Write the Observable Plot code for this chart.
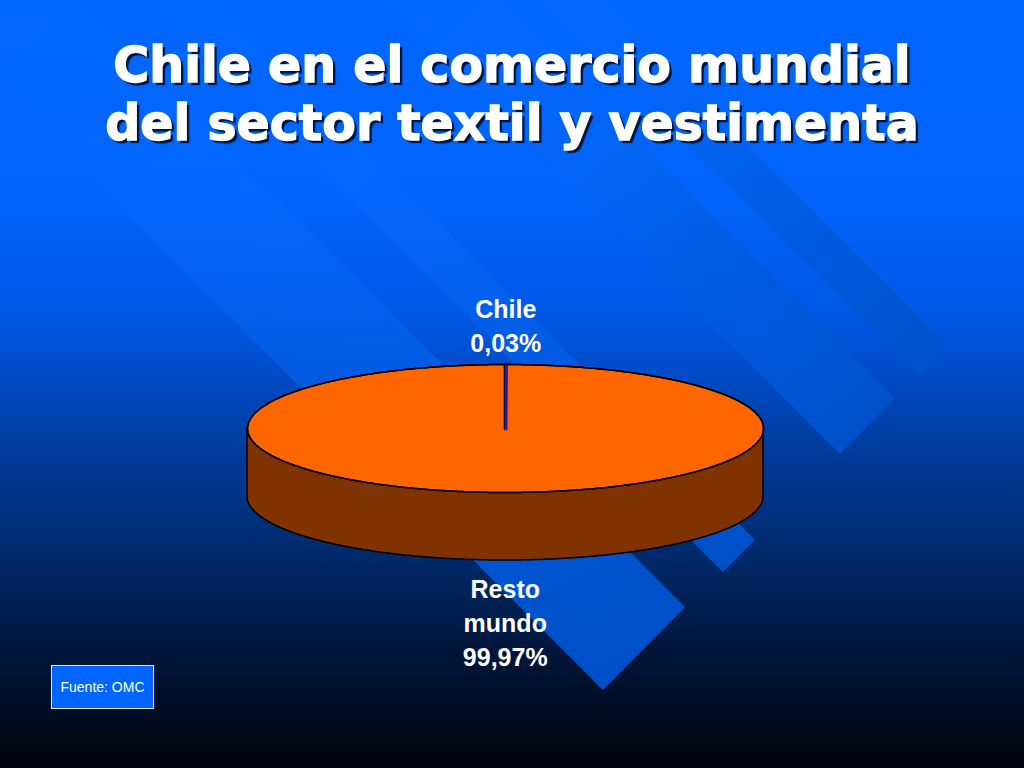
<!DOCTYPE html>
<html>
<head>
<meta charset="utf-8">
<script src="https://cdn.jsdelivr.net/npm/d3@7"></script>
<script src="https://cdn.jsdelivr.net/npm/@observablehq/plot@0.6"></script>
<style>
  html, body { margin: 0; padding: 0; width: 1024px; height: 768px; overflow: hidden; }
  #stage { position: relative; width: 1024px; height: 768px;
    background: linear-gradient(to bottom, #0066ff 0%, #0064fb 25%, #0059e8 40%, #0049c2 50%, #003a96 60%, #002a6c 72%, #00163a 85%, #00040c 100%); }
  #bands { position: absolute; left: 0; top: 0; }
  #chart { position: absolute; left: 0; top: 0; }
  #title { position: absolute; left: 0; top: 37px; width: 1024px; text-align: center;
    font-family: "DejaVu Sans", sans-serif; font-weight: bold; font-size: 49px; line-height: 58px;
    letter-spacing: 0px; color: #fff; -webkit-text-stroke: 1.4px #fff; text-shadow: 3px 3px 1px #001440; }
  #source { position: absolute; left: 51px; top: 665px; width: 101px; height: 42px;
    background: #0066ff; border: 1px solid #dde6ff; color: #fff; font-family: "Liberation Sans", Arial, sans-serif;
    font-size: 14px; line-height: 42px; text-align: center; }
</style>
</head>
<body>
<div id="stage">
  <svg id="bands" width="1024" height="768"></svg>
  <div id="chart"></div>
  <div id="title">Chile en el comercio mundial<br>del sector textil y vestimenta</div>
  <div id="source">Fuente: OMC</div>
</div>
<script>
// ---- data ----
const categories = ["Chile", "Resto mundo"];
const shares = [0.03, 99.97];
const shareLabels = ["0,03%", "99,97%"];
const sliceColors = ["#1e1e9e", "#ff6600"];

// ---- decorative diagonal bands (background only) ----
(function () {
  const svg = d3.select("#bands");
  const defs = svg.append("defs");
  const bands = [
    {p1: [948, 346], p2: [918, 376], d: 620},
    {p1: [895, 398], p2: [840, 454], d: 640},
    {p1: [755, 540], p2: [723, 572], d: 640},
    {p1: [685, 607], p2: [603, 690], d: 700}
  ];
  bands.forEach((b, i) => {
    const g = defs.append("linearGradient").attr("id", "bg" + i)
      .attr("x1", 0).attr("y1", 0).attr("x2", 1).attr("y2", 1);
    g.append("stop").attr("offset", "0%").attr("stop-color", "#0a6cff").attr("stop-opacity", 0);
    g.append("stop").attr("offset", "40%").attr("stop-color", "#0a6cff").attr("stop-opacity", 0.3);
    g.append("stop").attr("offset", "70%").attr("stop-color", "#005ee6").attr("stop-opacity", 0.85);
    g.append("stop").attr("offset", "100%").attr("stop-color", "#0050c8").attr("stop-opacity", 1);
    const pts = [b.p1, b.p2, [b.p2[0] - b.d, b.p2[1] - b.d], [b.p1[0] - b.d, b.p1[1] - b.d]];
    svg.append("polygon").attr("points", pts.map(p => p.join(",")).join(" "))
      .attr("fill", `url(#bg${i})`);
  });
})();

// ---- pie geometry from data ----
const depth = 1.0625;            // thickness of the 3D disc, in radius units
const pieData = categories.map((c, i) => ({name: c, value: shares[i], label: shareLabels[i], color: sliceColors[i]}));
const arcs = d3.pie().sort(null).value(d => d.value).startAngle(0).endAngle(2 * Math.PI)(pieData);
const step = Math.PI / 360;

function arcPoints(a0, a1) {
  const pts = [];
  const n = Math.max(1, Math.ceil((a1 - a0) / step));
  for (let k = 0; k <= n; k++) {
    const a = a0 + (a1 - a0) * k / n;
    pts.push({x: Math.sin(a), y: -Math.cos(a)});
  }
  return pts;
}

const topFaces = arcs.map(a => ({
  name: a.data.name, color: a.data.color,
  pts: [{x: 0, y: 0}, ...arcPoints(a.startAngle, a.endAngle), {x: 0, y: 0}]
}));

// front side wall: visible part between 90° and 270°
const sides = [];
arcs.forEach(a => {
  const s = Math.max(a.startAngle, Math.PI / 2), e = Math.min(a.endAngle, 3 * Math.PI / 2);
  if (e > s) {
    const c = d3.rgb(a.data.color);
    const dark = d3.rgb(c.r * 0.5, c.g * 0.5, c.b * 0.5).formatHex();
    sides.push({color: dark, pts: arcPoints(s, e).map(p => ({x: p.x, y1: p.y, y2: p.y + depth}))});
  }
});

const labels = arcs.map(a => {
  const m = (a.startAngle + a.endAngle) / 2;
  const front = Math.cos(m) < 0;
  return {
    x: Math.sin(m),
    y: -Math.cos(m) + (front ? depth : 0),
    text: a.data.name.replace(" ", "\n") + "\n" + a.data.label,
    front
  };
});

const startEdge = [{x: 0, y: 0}, {x: Math.sin(arcs[0].startAngle), y: -Math.cos(arcs[0].startAngle)}];
const font = "'Liberation Sans', Arial, sans-serif";

const plot = Plot.plot({
  width: 1024,
  height: 768,
  margin: 0,
  style: {background: "transparent", overflow: "visible"},
  x: {domain: [-1, 1], range: [247, 763], axis: null},
  y: {domain: [-1, 1], range: [364, 492], axis: null},
  marks: [
    ...sides.map(s => Plot.areaY(s.pts, {x: "x", y1: "y1", y2: "y2", fill: s.color, stroke: "black", strokeWidth: 1.5, curve: "linear"})),
    ...topFaces.slice().reverse().map(f => Plot.line(f.pts, {x: "x", y: "y", fill: f.color,
      stroke: f.name === categories[0] ? f.color : "black",
      strokeWidth: f.name === categories[0] ? 4 : 1.5, curve: "linear"})),
    // outline of the top ellipse
    Plot.line(arcPoints(0, 2 * Math.PI), {x: "x", y: "y", stroke: "black", strokeWidth: 1.5}),
    Plot.line(startEdge, {x: "x", y: "y", stroke: "black", strokeWidth: 1, dx: -1}),
    Plot.text(labels.filter(d => !d.front), {x: "x", y: "y", text: "text", dy: -40, lineAnchor: "middle",
      lineHeight: 1.36, fill: "white", fontSize: 25, fontWeight: "bold", fontFamily: font}),
    Plot.text(labels.filter(d => d.front), {x: "x", y: "y", text: "text", dy: 61, lineAnchor: "middle",
      lineHeight: 1.36, fill: "white", fontSize: 25, fontWeight: "bold", fontFamily: font})
  ]
});
document.getElementById("chart").appendChild(plot);
</script>
</body>
</html>
